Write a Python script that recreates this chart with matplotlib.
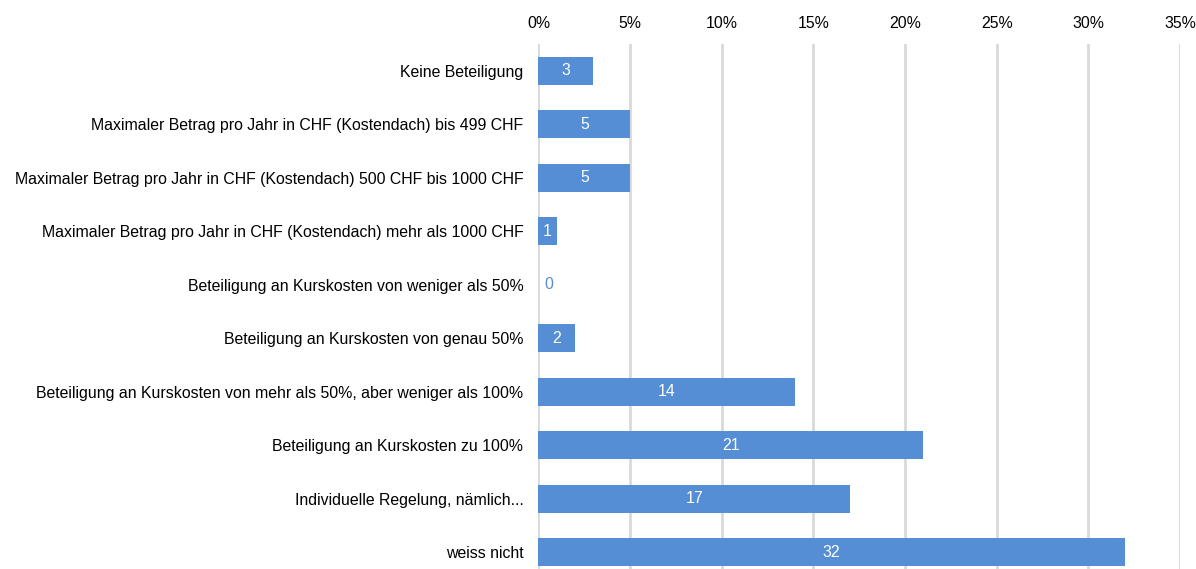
import matplotlib.pyplot as plt
from matplotlib.ticker import FuncFormatter

categories = [
    "Keine Beteiligung",
    "Maximaler Betrag pro Jahr in CHF (Kostendach) bis 499 CHF",
    "Maximaler Betrag pro Jahr in CHF (Kostendach) 500 CHF bis 1000 CHF",
    "Maximaler Betrag pro Jahr in CHF (Kostendach) mehr als 1000 CHF",
    "Beteiligung an Kurskosten von weniger als 50%",
    "Beteiligung an Kurskosten von genau 50%",
    "Beteiligung an Kurskosten von mehr als 50%, aber weniger als 100%",
    "Beteiligung an Kurskosten zu 100%",
    "Individuelle Regelung, nämlich...",
    "weiss nicht",
]
values = [3, 5, 5, 1, 0, 2, 14, 21, 17, 32]
x_ticks = [0, 5, 10, 15, 20, 25, 30, 35]

BLUE = "#558ed5"
FS = 11.4
plt.rcParams["font.family"] = ["Liberation Sans", "DejaVu Sans"]

fig = plt.figure(figsize=(11.96, 5.69), dpi=100)
ax = fig.add_axes([0.4502, -0.0176, 0.9866 - 0.4502, 0.9403])

y = list(range(len(categories)))
ax.barh(y, values, height=0.52, color=BLUE, zorder=3)

# value labels: white inside the bar, blue next to the axis for zero
for yi, v in zip(y, values):
    if v > 0:
        ax.text(v / 2, yi, str(v), ha="center", va="center",
                color="white", fontsize=FS, zorder=4)
    else:
        ax.text(0.35, yi, str(v), ha="left", va="center",
                color=BLUE, fontsize=FS, zorder=4)

ax.set_yticks(y)
ax.set_yticklabels(categories, fontsize=FS)
ax.set_ylim(len(categories) - 0.5, -0.5)
ax.set_xlim(0, 35)
ax.set_xticks(x_ticks)
ax.xaxis.set_major_formatter(FuncFormatter(lambda v, _: f"{v:.0f}%"))
ax.xaxis.tick_top()
ax.tick_params(axis="x", length=0, labelsize=FS, pad=9)
ax.tick_params(axis="y", length=0, pad=10.8)
ax.grid(axis="x", color="#d9d9d9", linewidth=2, zorder=0)
for s in ax.spines.values():
    s.set_visible(False)

fig.savefig("out.png", dpi=100)
